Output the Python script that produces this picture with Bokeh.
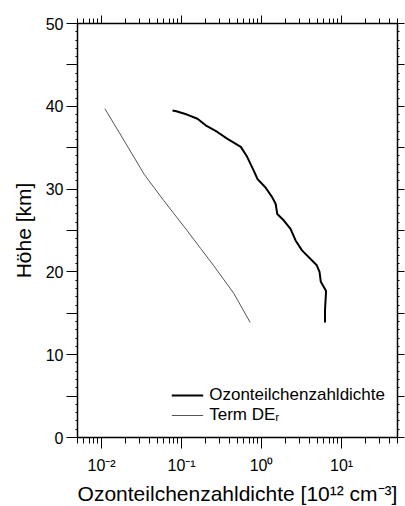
from bokeh.plotting import figure
from bokeh.models import (FixedTicker, LogAxis, LinearAxis, Range1d, Legend, LegendItem)
from bokeh.embed import file_html
from bokeh.resources import INLINE

# ---- data ----
ozone_km = [39.5, 39.4, 39.0, 38.5, 37.7, 36.9, 36.1, 35.1, 33.9, 32.2, 31.2, 30.2,
            29.0, 28.2, 27.0, 26.2, 25.2, 23.8, 22.6, 20.8, 20.0, 18.8, 17.7, 16.5,
            15.3, 13.9]
ozone_val = [0.077, 0.086, 0.117, 0.158, 0.20, 0.28, 0.37, 0.55, 0.66, 0.80, 0.89, 1.12,
             1.36, 1.50, 1.57, 1.9, 2.3, 2.66, 3.2, 4.9, 5.3, 5.5, 6.4, 6.3,
             6.2, 6.2]
term_km = [39.7, 35.9, 31.8, 28.6, 25.0, 22.8, 20.8, 17.4, 13.9]
term_val = [0.011, 0.019, 0.034, 0.060, 0.117, 0.174, 0.25, 0.45, 0.72]

x_major = [0.01, 0.1, 1.0, 10.0]
x_major_labels = ["10\u207b\u00b2", "10\u207b\u00b9", "10\u2070", "10\u00b9"]
x_minor = [k * 10.0 ** e for e in (-3, -2, -1, 0, 1) for k in range(2, 10)]
y_major = list(range(0, 51, 5))
y_labels = {v: (str(v) if v % 10 == 0 else "") for v in y_major}
y_minor = list(range(0, 51))

FONT = "Liberation Sans"

p = figure(frame_width=320, frame_height=414, x_axis_type="log",
           x_range=Range1d(0.005, 50), y_range=Range1d(0, 50),
           output_backend="svg", toolbar_location=None,
           min_border_left=77, min_border_right=8, min_border_top=23,
           min_border_bottom=69, background_fill_color="white",
           border_fill_color="white")
p.xgrid.visible = False
p.ygrid.visible = False
p.outline_line_color = None

r1 = p.line(ozone_val, ozone_km, line_color="black", line_width=2)
r2 = p.line(term_val, term_km, line_color="#555555", line_width=1)

xt = FixedTicker(ticks=x_major, minor_ticks=x_minor)
yt = FixedTicker(ticks=y_major, minor_ticks=y_minor)

def style(ax):
    ax.axis_line_width = 1.5
    ax.axis_line_color = "black"
    ax.major_tick_line_color = "black"
    ax.minor_tick_line_color = "black"
    ax.major_tick_in = 0
    ax.minor_tick_in = 0
    ax.major_label_text_font = FONT
    ax.axis_label_text_font = FONT
    ax.axis_label_text_font_style = "normal"
    ax.major_label_text_color = "black"
    ax.axis_label_text_color = "black"

xb = p.xaxis[0]
style(xb)
xb.ticker = xt
xb.major_label_overrides = dict(zip(x_major, x_major_labels))
xb.major_tick_out = 11
xb.minor_tick_out = 6
xb.major_label_standoff = 8
xb.major_label_text_font_size = "16px"
xb.axis_label = "Ozonteilchenzahldichte [10\u00b9\u00b2 cm\u207b\u00b3]"
xb.axis_label_text_font_size = "21px"
xb.axis_label_standoff = 5

yl = p.yaxis[0]
style(yl)
yl.ticker = yt
yl.major_label_overrides = y_labels
yl.major_tick_out = 11
yl.minor_tick_out = 2
yl.major_label_standoff = 3
yl.major_label_text_font_size = "16px"
yl.axis_label = "Höhe [km]"
yl.axis_label_text_font_size = "21px"
yl.axis_label_standoff = 8

xa = LogAxis(ticker=xt)
style(xa)
xa.major_label_overrides = {v: "" for v in x_major}
xa.major_label_text_font_size = "2px"
xa.major_label_standoff = 0
xa.major_tick_out = 8
xa.minor_tick_out = 5
p.add_layout(xa, "above")

yr = LinearAxis(ticker=yt)
style(yr)
yr.major_label_overrides = {v: "" for v in y_major}
yr.major_label_text_font_size = "2px"
yr.major_label_standoff = 0
yr.major_tick_out = 7
yr.minor_tick_out = 2
p.add_layout(yr, "right")

legend = Legend(items=[LegendItem(label="Ozonteilchenzahldichte", renderers=[r1]),
                       LegendItem(label="Term DE\u1d63", renderers=[r2])],
                location="bottom_right")
legend.border_line_alpha = 0
legend.background_fill_alpha = 0
legend.label_text_font = FONT
legend.label_text_font_size = "17px"
legend.label_text_color = "black"
legend.glyph_width = 32
legend.glyph_height = 16
legend.label_height = 16
legend.label_standoff = 6
legend.spacing = 0
legend.padding = 2
legend.margin = 10
p.add_layout(legend, "center")

open("out.html", "w").write(file_html(p, INLINE))
